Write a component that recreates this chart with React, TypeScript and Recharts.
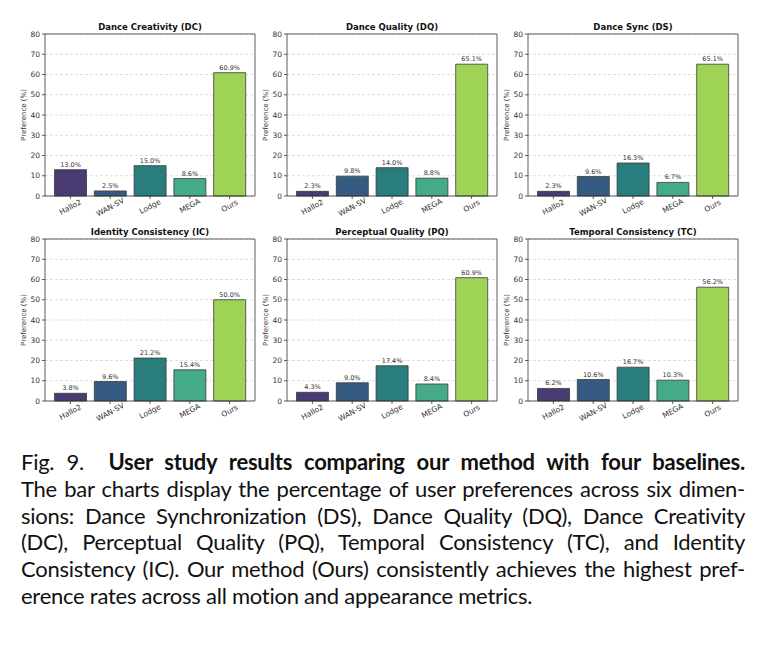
import { BarChart, Bar, XAxis, YAxis, CartesianGrid, Cell, LabelList } from 'recharts';

const methods = ['Hallo2', 'WAN-SV', 'Lodge', 'MEGA', 'Ours'];
const barColors = ['#4a3b73', '#365b83', '#2a7d7d', '#45aa89', '#9fd356'];
const yTicks = [0, 10, 20, 30, 40, 50, 60, 70, 80];

const dcValues = [13.0, 2.5, 15.0, 8.6, 60.9];
const dqValues = [2.3, 9.8, 14.0, 8.8, 65.1];
const dsValues = [2.3, 9.6, 16.3, 6.7, 65.1];
const icValues = [3.8, 9.6, 21.2, 15.4, 50.0];
const pqValues = [4.3, 9.0, 17.4, 8.4, 60.9];
const tcValues = [6.2, 10.6, 16.7, 10.3, 56.2];

const panelTitles = [
  'Dance Creativity (DC)',
  'Dance Quality (DQ)',
  'Dance Sync (DS)',
  'Identity Consistency (IC)',
  'Perceptual Quality (PQ)',
  'Temporal Consistency (TC)',
];
const panelValues = [dcValues, dqValues, dsValues, icValues, pqValues, tcValues];

const captionLines = [
  'The bar charts display the percentage of user preferences across six dimen-',
  'sions: Dance Synchronization (DS), Dance Quality (DQ), Dance Creativity',
  '(DC), Perceptual Quality (PQ), Temporal Consistency (TC), and Identity',
  'Consistency (IC). Our method (Ours) consistently achieves the highest pref-',
  'erence rates across all motion and appearance metrics.',
];

// plot-area origin of each panel (left, top)
const COL_X = [45, 287, 528];
const ROW_Y = [34, 239];
const PLOT_W = 210;
const PLOT_H = 162;
const AXIS_FONT = 'DejaVu Sans, sans-serif';
const INK = '#333';

const XTick = (props: any) => {
  const { x, y, payload } = props;
  const label = String(payload.value);
  const off = 2.5 + label.length * 0.6;
  return (
    <g transform={`translate(${x},${y + off})`}>
      <text
        transform="rotate(-28)"
        textAnchor="middle"
        dominantBaseline="central"
        fontSize={7.5}
        fontFamily={AXIS_FONT}
        fill={INK}
      >
        {label}
      </text>
    </g>
  );
};

const YLabel = (props: any) => {
  const vb = props.viewBox || { x: 0, y: 0, width: 45, height: PLOT_H };
  const cx = vb.x + vb.width - 21;
  const cy = vb.y + vb.height / 2;
  return (
    <text
      x={cx}
      y={cy}
      transform={`rotate(-90, ${cx}, ${cy})`}
      textAnchor="middle"
      dominantBaseline="central"
      fontSize={7}
      fontFamily={AXIS_FONT}
      fill={INK}
    >
      Preference (%)
    </text>
  );
};

const Panel = ({ title, values, left, top }: { title: string; values: number[]; left: number; top: number }) => {
  const data = methods.map((name, i) => ({ name, value: values[i] }));
  return (
    <div style={{ position: 'absolute', left: left - 45, top: top - 34, width: 260, height: 230 }}>
      <div
        style={{
          position: 'absolute',
          left: 45,
          width: PLOT_W,
          top: 22,
          textAlign: 'center',
          fontFamily: AXIS_FONT,
          fontWeight: 'bold',
          fontSize: 8.5,
          color: '#111',
          lineHeight: '10px',
        }}
      >
        {title}
      </div>
      <BarChart width={260} height={230} data={data} margin={{ top: 33, right: 4, bottom: 0, left: 0 }}>
        <CartesianGrid vertical={false} stroke="#c8c8c8" strokeDasharray="3 2" strokeWidth={0.6} />
        <XAxis
          dataKey="name"
          height={34}
          interval={0}
          padding={{ left: 5.5, right: 5.5 }}
          tickSize={3}
          tickMargin={2}
          tick={<XTick />}
          axisLine={{ stroke: INK, strokeWidth: 0.8 }}
          tickLine={{ stroke: INK, strokeWidth: 0.8 }}
        />
        <XAxis
          xAxisId="top"
          dataKey="name"
          orientation="top"
          height={1}
          tick={false}
          tickLine={false}
          axisLine={{ stroke: INK, strokeWidth: 0.8 }}
        />
        <YAxis
          width={45}
          domain={[0, 80]}
          ticks={yTicks}
          interval={0}
          tickSize={3}
          tickMargin={2}
          tick={{ fontSize: 7.5, fontFamily: AXIS_FONT, fill: INK }}
          axisLine={{ stroke: INK, strokeWidth: 0.8 }}
          tickLine={{ stroke: INK, strokeWidth: 0.8 }}
          label={{ content: <YLabel /> }}
        />
        <YAxis
          yAxisId="right"
          orientation="right"
          width={1}
          domain={[0, 80]}
          tick={false}
          tickLine={false}
          axisLine={{ stroke: INK, strokeWidth: 0.8 }}
        />
        <Bar dataKey="value" barSize={32} stroke="#3a3a3a" strokeWidth={0.8} isAnimationActive={false}>
          {data.map((d, i) => (
            <Cell key={d.name} fill={barColors[i]} />
          ))}
          <LabelList
            dataKey="value"
            position="top"
            offset={3}
            formatter={(v: any) => `${Number(v).toFixed(1)}%`}
            style={{ fontSize: 6.5, fontFamily: AXIS_FONT, fill: INK }}
          />
        </Bar>
      </BarChart>
    </div>
  );
};

export default function App() {
  return (
    <div
      style={{
        position: 'absolute',
        left: 0,
        top: 0,
        width: 763,
        height: 657,
        background: '#fff',
        overflow: 'hidden',
      }}
    >
      {panelTitles.map((t, i) => (
        <Panel key={t} title={t} values={panelValues[i]} left={COL_X[i % 3]} top={ROW_Y[Math.floor(i / 3)]} />
      ))}
      <div
        style={{
          position: 'absolute',
          left: 21,
          top: 449,
          width: 724,
          fontFamily: 'Lato, sans-serif',
          fontSize: 22,
          lineHeight: '26.8px',
          color: '#111',
          letterSpacing: -0.25,
        }}
      >
        <div style={{ textAlign: 'justify', textAlignLast: 'justify' }}>
          Fig. 9.&nbsp; <b>User study results comparing our method with four baselines.</b>
        </div>
        {captionLines.map((line, i) => (
          <div
            key={i}
            style={{
              textAlign: 'justify',
              textAlignLast: i === captionLines.length - 1 ? 'left' : 'justify',
            }}
          >
            {line}
          </div>
        ))}
      </div>
    </div>
  );
}
